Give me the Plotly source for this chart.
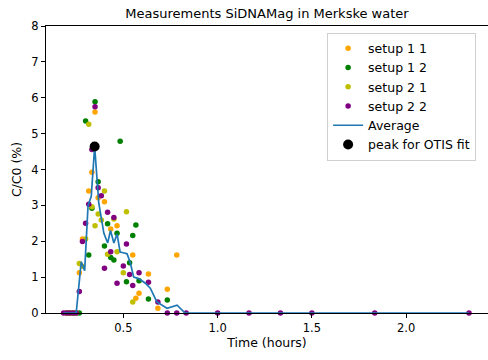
import plotly.graph_objects as go

# ---- data (time in minutes, C/C0 in %) ----
s11_min = [12, 13, 14, 15, 16, 17, 19, 20, 21, 22, 24, 26, 28, 33, 34, 35, 38, 41, 44, 47]
s11_val = [0, 0, 0, 0, 1.12, 2.06, 3.40, 3.92, 5.60, 3.21, 3.10, 2.34, 2.43, 1.62, 0.41, 0.55, 1.09, 0.13, 0.66, 1.62]

s12_min = [12, 13, 14, 15, 16, 18, 19, 20, 21, 22, 24, 25, 26, 27, 28, 29, 31, 32, 33, 34, 35, 38, 44]
s12_val = [0, 0, 0, 0, 0, 5.35, 1.62, 2.92, 5.89, 3.66, 1.87, 2.49, 1.55, 1.48, 2.22, 4.79, 0.87, 1.40, 2.16, 2.45, 0.90, 0.39, 0.36]

s21_min = [12, 13, 14, 15, 16, 17, 18, 19, 20, 21, 22, 23, 24, 25, 27, 28, 30, 31, 33]
s21_val = [0, 0, 0, 0, 1.38, 1.30, 2.06, 5.26, 2.96, 2.43, 2.76, 2.59, 3.40, 1.64, 2.62, 1.71, 1.12, 2.82, 0.31]

s22_min = [11, 12, 13, 14, 15, 16, 17, 18, 19, 20, 21, 22, 23, 24, 25, 26, 27, 28, 30, 31, 32, 33, 35, 38, 41,
           44, 47, 50, 60, 70, 80, 90, 110, 140]
s22_val = [0, 0, 0, 0, 0, 0.60, 1.99, 2.50, 3.03, 4.56, 5.75, 3.49, 3.27, 1.25, 2.81, 1.71, 2.66, 0.83, 1.31, 1.92,
           1.07, 0.77, 1.12, 0.86, 0.31, 0, 0, 0, 0, 0, 0, 0, 0, 0]

avg_hours = [0.183, 0.250, 0.277, 0.295, 0.313, 0.330, 0.348, 0.370, 0.397, 0.417, 0.432, 0.450, 0.467, 0.483,
             0.500, 0.520, 0.538, 0.555, 0.582, 0.617, 0.643, 0.678, 0.732, 0.785, 0.828, 1.0, 1.167, 1.333,
             1.5, 1.833, 2.333]
avg_val = [0, 0, 1.43, 1.18, 3.0, 3.25, 4.64, 3.06, 2.22, 1.95, 2.3, 1.95, 2.2, 1.7, 1.68, 1.65, 1.38, 1.0,
           0.96, 0.83, 0.69, 0.31, 0.13, 0.22, 0, 0, 0, 0, 0, 0, 0]

peak_hours = [0.348]
peak_val = [4.64]

x_ticks = [0.5, 1.0, 1.5, 2.0]
x_tick_labels = ["0.5", "1.0", "1.5", "2.0"]
y_ticks = [0, 1, 2, 3, 4, 5, 6, 7, 8]

FONT = "DejaVu Sans"
fig = go.Figure()

def hours(mins):
    return [m / 60.0 for m in mins]

for name, mins, vals, col in [
    ("setup 1 1", s11_min, s11_val, "#FFA500"),
    ("setup 1 2", s12_min, s12_val, "#008000"),
    ("setup 2 1", s21_min, s21_val, "#BFBF00"),
    ("setup 2 2", s22_min, s22_val, "#800080"),
]:
    fig.add_trace(go.Scatter(x=hours(mins), y=vals, mode="markers", name=name,
                             marker=dict(color=col, size=5.5, line=dict(width=0)),
                             cliponaxis=False))

fig.add_trace(go.Scatter(x=avg_hours, y=avg_val, mode="lines", name="Average",
                         line=dict(color="#1f77b4", width=1.7)))
fig.add_trace(go.Scatter(x=peak_hours, y=peak_val, mode="markers", name="peak for OTIS fit",
                         marker=dict(color="black", size=10, line=dict(width=0))))

fig.update_layout(
    width=488, height=360,
    margin=dict(l=46, r=0, t=26, b=47),
    paper_bgcolor="white", plot_bgcolor="white",
    font=dict(family=FONT, size=11.5, color="black"),
    title=dict(text="Measurements SiDNAMag in Merkske water", x=0.5, xref="paper", xanchor="center",
               y=1 - 13 / 360, yref="container", yanchor="middle", font=dict(size=13)),
    showlegend=True,
    legend=dict(x=0.636, y=0.977, xanchor="left", yanchor="top", bgcolor="white",
                bordercolor="#d0d0d0", borderwidth=1, font=dict(size=12.5),
                tracegroupgap=0, itemwidth=30),
)
fig.update_xaxes(range=[0.09, 2.434], tickvals=x_ticks, ticktext=x_tick_labels,
                 showgrid=False, zeroline=False, showline=True, linecolor="black", linewidth=1,
                 mirror=True, ticks="outside", ticklen=4, tickcolor="black",
                 title=dict(text="Time (hours)", standoff=2, font=dict(size=12.5)))
fig.update_yaxes(range=[0, 8], tickvals=y_ticks, showgrid=False, zeroline=False,
                 showline=True, linecolor="black", linewidth=1, ticks="outside", ticklen=4,
                 tickcolor="black", title=dict(text="C/C0 (%)", standoff=6, font=dict(size=12.5)))

fig.write_html("out.html")
